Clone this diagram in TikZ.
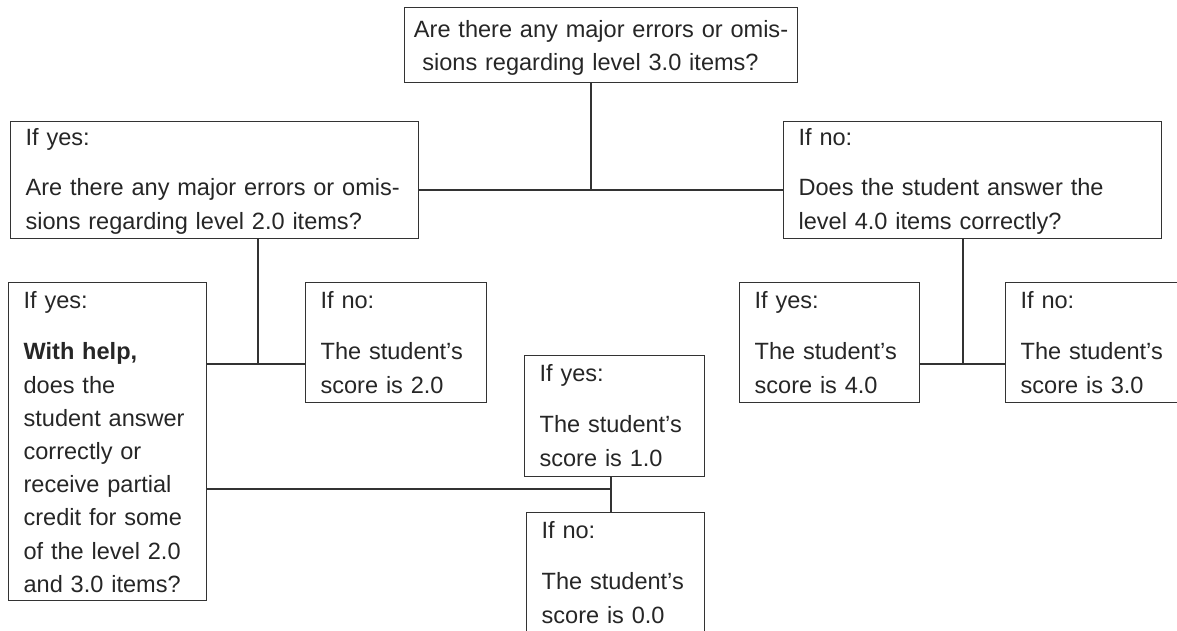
\documentclass[tikz,border=0pt]{standalone}
\usepackage{fontspec}
\setmainfont{Liberation Sans}
\tikzset{
  qbox/.style={draw=black!80, line width=0.7pt, text=black!85, anchor=north west,
    inner xsep=0.3cm, inner ysep=0pt, align=left, text height=0.52cm,
    font=\fontsize{13.4pt}{18.9pt}\selectfont},
  link/.style={draw=black!80, line width=0.7pt}
}
\begin{document}
\begin{tikzpicture}[x=0.02cm, y=-0.02cm]
      \useasboundingbox (0,0) rectangle (1177,631);
      \clip (0,0) rectangle (1177,631);
      \path (404,7) node[qbox, align=center, inner xsep=0.1cm, text width=7.66cm, text height=0.6cm, text depth=0.9cm] (q30)
        {Are there any major errors or omis-\hspace*{0.9em}\\sions regarding level 3.0 items?\hspace*{0.9em}};
      \path (10,121) node[qbox, text width=7.56cm, text height=0.47cm, text depth=1.87cm] (q20)
        {If yes:\\[10pt]\mbox{Are there any major errors or omis-}\\sions regarding level 2.0 items?};
      \path (783,121) node[qbox, text width=6.96cm, text height=0.47cm, text depth=1.87cm] (q40)
        {If no:\\[10pt]Does the student answer the\\level 4.0 items correctly?};
      \path (8,282) node[qbox, text width=3.36cm, text depth=5.84cm] (help)
        {If yes:\\[10.3pt]\textbf{With help,}\\does the\\student answer\\correctly or\\receive partial\\credit for some\\of the level 2.0\\and 3.0 items?};
      \path (305,282) node[qbox, text width=3.02cm, text depth=1.88cm] (s20)
        {If no:\\[10.3pt]The student’s\\score is 2.0};
      \path (524,355) node[qbox, text width=3.0cm, text depth=1.9cm] (s10)
        {If yes:\\[10.3pt]The student’s\\score is 1.0};
      \path (526,512) node[qbox, text width=2.96cm, text depth=2.28cm] (s00)
        {If no:\\[10.3pt]The student’s\\score is 0.0};
      \path (739,282) node[qbox, text width=3.0cm, text depth=1.88cm] (s40)
        {If yes:\\[10.3pt]The student’s\\score is 4.0};
      \path (1005,282) node[qbox, text width=3.4cm, text depth=1.88cm] (s30)
        {If no:\\[10.3pt]The student’s\\score is 3.0};
      \coordinate (j30) at (591,190);
      \coordinate (j20) at (258,364);
      \coordinate (j40) at (963,364);
      \coordinate (jhelp) at (611,489);
      \draw[link] (j30 |- q30.south) -- (j30);
      \draw[link] (q20.east |- j30) -- (q40.west |- j30);
      \draw[link] (j20 |- q20.south) -- (j20);
      \draw[link] (help.east |- j20) -- (s20.west |- j20);
      \draw[link] (j40 |- q40.south) -- (j40);
      \draw[link] (s40.east |- j40) -- (s30.west |- j40);
      \draw[link] (help.east |- jhelp) -- (jhelp);
      \draw[link] (jhelp |- s10.south) -- (jhelp |- s00.north);
\end{tikzpicture}
\end{document}
